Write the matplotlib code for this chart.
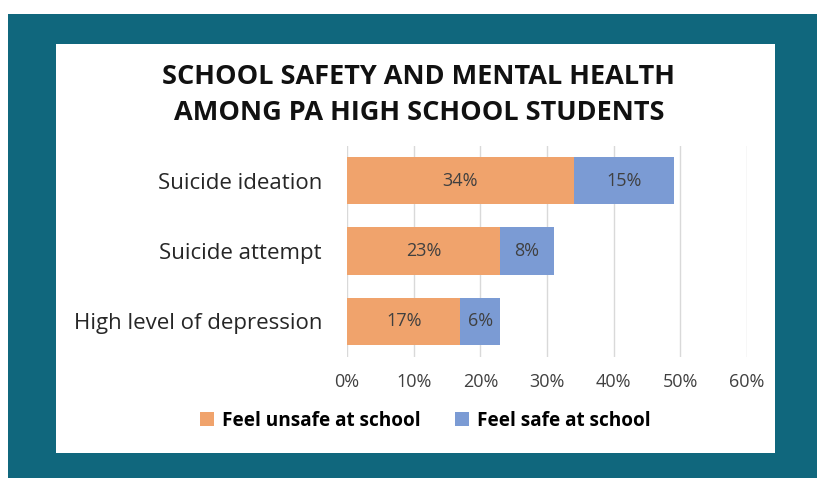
import matplotlib.pyplot as plt
from matplotlib.patches import Rectangle

categories = ["High level of depression", "Suicide attempt", "Suicide ideation"]
unsafe = [17, 23, 34]
safe = [6, 8, 15]
ticks = [0, 10, 20, 30, 40, 50, 60]

orange = "#F0A36C"
blue = "#7B9BD4"
teal = "#10677D"

plt.rcParams['font.family'] = ['Open Sans', 'DejaVu Sans']

fig = plt.figure(figsize=(8.17, 4.78), dpi=100)
fig.patch.set_facecolor("white")
W, H = 817, 478
# teal frame and the white card on top of it
fig.patches.append(Rectangle((8 / W, 0), 1 - 8 / W, 1 - 14 / H, transform=fig.transFigure,
                             facecolor=teal, edgecolor="none", zorder=-10))
fig.patches.append(Rectangle((56 / W, 1 - 453 / H), (775 - 56) / W, (453 - 44) / H,
                             transform=fig.transFigure, facecolor="white", edgecolor="none", zorder=-9))

ax = fig.add_axes([347 / W, 1 - 356.5 / H, 400 / W, 211 / H])
ax.set_zorder(5)
ax.set_facecolor("none")
y = range(len(categories))
b1 = ax.barh(y, unsafe, height=0.67, color=orange, label="Feel unsafe at school", zorder=2)
b2 = ax.barh(y, safe, left=unsafe, height=0.67, color=blue, label="Feel safe at school", zorder=2)
for i in y:
    ax.text(unsafe[i] / 2, i, f"{unsafe[i]}%", ha="center", va="center", fontsize=13, color="#404040")
    ax.text(unsafe[i] + safe[i] / 2, i, f"{safe[i]}%", ha="center", va="center", fontsize=13, color="#404040")

ax.set_xlim(0, 60)
ax.set_ylim(-0.5, 2.5)
ax.set_xticks(ticks)
ax.set_xticklabels([f"{t}%" for t in ticks], fontsize=13, color="#404040")
ax.set_yticks(list(y))
ax.set_yticklabels(categories, fontsize=16, color="#262626")
ax.tick_params(length=0)
ax.tick_params(axis="y", pad=18)
ax.tick_params(axis="x", pad=12)
ax.grid(axis="x", color="#D9D9D9", linewidth=1, zorder=0)
ax.set_axisbelow(True)
for s in ax.spines.values():
    s.set_visible(False)

fig.text(419 / W, 1 - 95 / H, "SCHOOL SAFETY AND MENTAL HEALTH\nAMONG PA HIGH SCHOOL STUDENTS",
         ha="center", va="center", fontsize=19.5, fontweight="bold", color="#111111", linespacing=1.45)

fig.legend(handles=[b1, b2], loc="center", bbox_to_anchor=(425 / W, 1 - 421 / H), ncol=2, frameon=False,
           prop={"size": 13.7, "weight": "bold"}, handlelength=0.75, handleheight=0.75, columnspacing=1.8,
           handletextpad=0.4)

fig.savefig("out.png", dpi=100)
